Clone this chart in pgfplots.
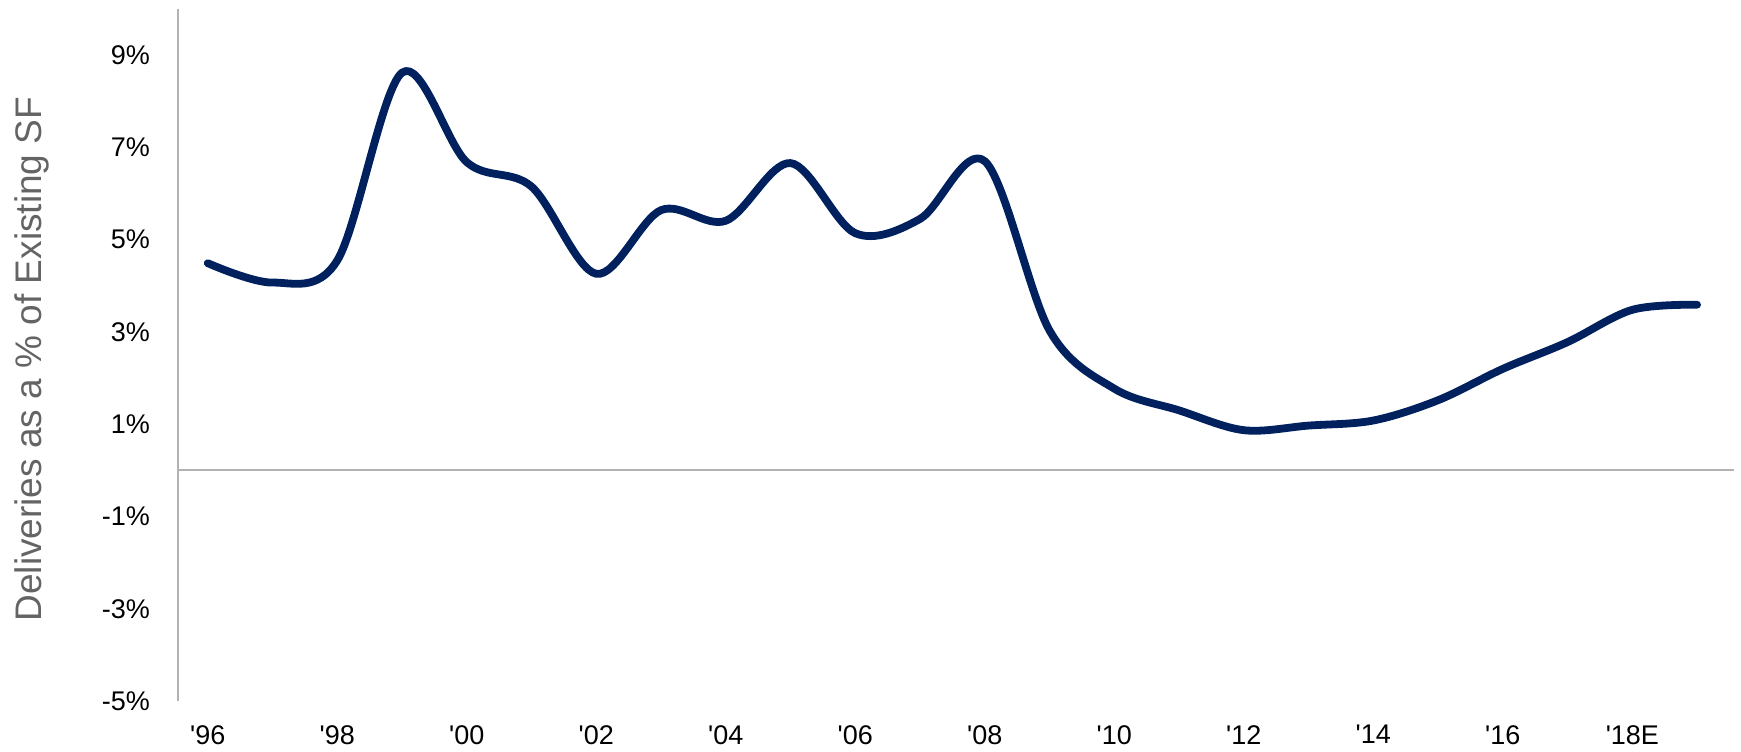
\documentclass[border=0pt]{standalone}
\usepackage{fontspec}
\setmainfont{Liberation Sans}[Ligatures=TeXOff]
\usepackage{pgfplots}
\pgfplotsset{compat=1.18}
\definecolor{navy}{RGB}{0,33,94}
\definecolor{axgray}{RGB}{178,178,178}
\definecolor{titlegray}{RGB}{100,100,100}
\begin{document}
\begin{tikzpicture}
\begin{axis}[
  scale only axis, width=778pt, height=346pt,
  xmin=1995.54, xmax=2019.57, ymin=-5, ymax=10,
  clip=false,
  axis x line*=bottom, x axis line style={draw=none},
  axis y line*=left, y axis line style={-, draw=axgray, line width=1pt},
  major tick length=0pt, tick style={draw=none},
  xtick={1996,1998,2000,2002,2004,2006,2008,2010,2012,2014,2016,2018},
  xticklabels={'96,'98,'00,'02,'04,'06,'08,'10,'12,'14,'16,'18E},
  ytick={-5,-3,-1,1,3,5,7,9},
  yticklabels={-5\%,-3\%,-1\%,1\%,3\%,5\%,7\%,9\%},
  yticklabel style={font=\fontsize{13.5}{16}\selectfont, anchor=east, inner sep=0pt, xshift=-13.8pt, text=black},
  xticklabel style={font=\fontsize{13.5}{16}\selectfont, anchor=north, inner sep=0pt, yshift=-12pt, text=black},
  extra y ticks={0}, extra y tick labels={},
  extra y tick style={grid=major, major grid style={draw=axgray, line width=1pt}},
  ylabel={Deliveries as a \% of Existing SF},
  ylabel style={font=\fontsize{18.5}{22}\selectfont, text=titlegray, at={(axis description cs:-0.0877,0.494)}, anchor=base},
]
\addplot[navy, line width=3.9pt, line cap=round, line join=round, smooth, tension=0.55] coordinates {
(1996,4.49) (1997,4.07) (1998,4.55) (1999,8.62) (2000,6.68) (2001,6.15)
(2002,4.26) (2003,5.64) (2004,5.41) (2005,6.66) (2006,5.14) (2007,5.45)
(2008,6.70) (2009,3.03) (2010,1.77) (2011,1.30) (2012,0.87) (2013,0.97)
(2014,1.08) (2015,1.52) (2016,2.20) (2017,2.78) (2018,3.48) (2019,3.59)
};
\end{axis}
\pgfresetboundingbox
\path[use as bounding box] ([shift={(-89pt,-25pt)}]current axis.south west) rectangle ([shift={(3.5pt,4.5pt)}]current axis.north east);
\end{tikzpicture}
\end{document}
